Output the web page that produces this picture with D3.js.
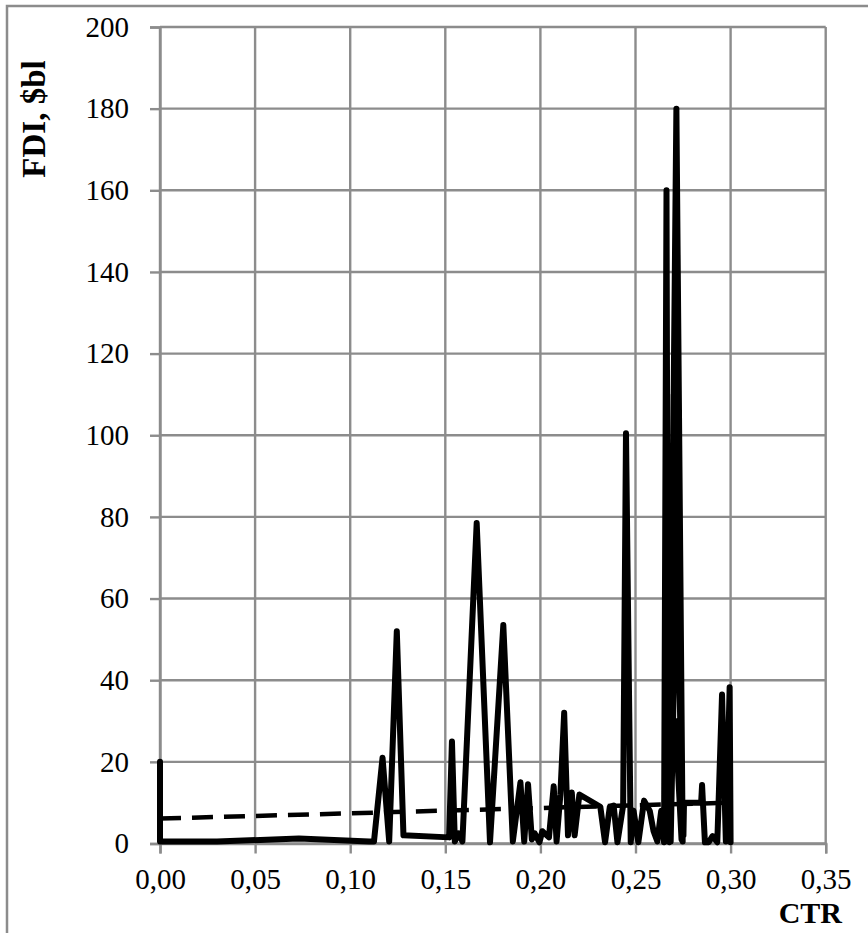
<!DOCTYPE html>
<html>
<head>
<meta charset="utf-8">
<script src="https://cdn.jsdelivr.net/npm/d3@7/dist/d3.min.js"></script>
<style>
  html, body { margin: 0; padding: 0; background: #fff; }
  svg { display: block; }
  text { font-family: "Liberation Serif", "Times New Roman", serif; fill: #000; }
</style>
</head>
<body>
<svg id="chart" width="868" height="933"></svg>
<script>
// ---- data ----
const xTicks = [0, 0.05, 0.10, 0.15, 0.20, 0.25, 0.30, 0.35];
const yTicks = [0, 20, 40, 60, 80, 100, 120, 140, 160, 180, 200];
const xTickLabels = ["0,00", "0,05", "0,10", "0,15", "0,20", "0,25", "0,30", "0,35"];
const yTickLabels = ["0", "20", "40", "60", "80", "100", "120", "140", "160", "180", "200"];

// FDI series (drawing order)
const ctr = [0.000, 0.000, 0.030, 0.073, 0.110, 0.1125, 0.117, 0.1205, 0.1245, 0.128,
  0.152, 0.1535, 0.155, 0.157, 0.159, 0.1665, 0.1735, 0.1805, 0.1855, 0.1895,
  0.1915, 0.1935, 0.1955, 0.197, 0.1995, 0.201, 0.2045, 0.207, 0.2085, 0.2105,
  0.2125, 0.2145, 0.2165, 0.218, 0.2205, 0.2315, 0.234, 0.2365, 0.2385, 0.2405,
  0.2435, 0.245, 0.2475, 0.249, 0.2515, 0.2545, 0.2575, 0.2595, 0.2615, 0.2635,
  0.2650, 0.2663, 0.2672, 0.2660, 0.2678, 0.2715, 0.2748, 0.2700, 0.2685, 0.2725,
  0.2742, 0.2710, 0.2752, 0.2755, 0.2845, 0.285, 0.2865, 0.2885,
  0.2905, 0.293, 0.2955, 0.2975, 0.2995, 0.300];
const fdi = [20, 0.5, 0.5, 1.2, 0.5, 0.5, 21, 0.5, 52, 2,
  1.5, 25, 0.5, 2.5, 0.5, 78.5, 0.3, 53.5, 0.5, 15,
  0.5, 14.5, 1, 2.5, 0.3, 3, 1.5, 14, 0.5, 12,
  32, 2, 12.5, 2, 12, 9, 0.3, 9, 9.3, 0.3,
  9.3, 100.5, 0.3, 8, 0.3, 10.5, 8, 3, 0.5, 8,
  0.3, 160, 0.5, 40, 0.3, 180, 0.5, 110, 0.5, 95,
  1, 30, 2, 10, 10, 14.3, 0.3, 0.3,
  1.8, 0.3, 36.5, 0.5, 38.3, 0.3];

// linear trend (dashed)
const trendCtr = [0.0, 0.30];
const trendFdi = [6.1, 10.0];

// ---- drawing ----
const svg = d3.select("#chart");
const x = d3.scaleLinear().domain([0, 0.35]).range([160, 825.7]);
const y = d3.scaleLinear().domain([0, 200]).range([843.5, 27]);
const grid = "#8c8c8c";

// outer frame
svg.append("rect").attr("x", 7).attr("y", 6).attr("width", 880).attr("height", 960)
  .attr("fill", "none").attr("stroke", grid).attr("stroke-width", 2.5);

// gridlines
svg.append("g").selectAll("line").data(yTicks).join("line")
  .attr("x1", x(0)).attr("x2", x(0.35))
  .attr("y1", d => y(d)).attr("y2", d => y(d))
  .attr("stroke", grid).attr("stroke-width", 2.4);
svg.append("g").selectAll("line").data(xTicks).join("line")
  .attr("y1", y(0)).attr("y2", y(200))
  .attr("x1", d => x(d)).attr("x2", d => x(d))
  .attr("stroke", grid).attr("stroke-width", 2.4);

// axes
const yAxis = d3.axisLeft(y).tickValues(yTicks).tickSize(10).tickPadding(21)
  .tickFormat((d, i) => yTickLabels[i]);
const gy = svg.append("g").attr("transform", `translate(${x(0)},0)`).call(yAxis);
const xAxis = d3.axisBottom(x).tickValues(xTicks).tickSize(10).tickPadding(15)
  .tickFormat((d, i) => xTickLabels[i]);
const gx = svg.append("g").attr("transform", `translate(0,${y(0)})`).call(xAxis);
[gx, gy].forEach(g => {
  g.select(".domain").attr("stroke", grid).attr("stroke-width", 2.4);
  g.selectAll(".tick line").attr("stroke", grid).attr("stroke-width", 2.4);
  g.selectAll(".tick text").attr("font-family", "Liberation Serif")
    .attr("font-size", 29).attr("fill", "#000");
});

// trend line (dashed)
const trend = trendCtr.map((c, i) => [c, trendFdi[i]]);
svg.append("path").datum(trend)
  .attr("d", d3.line().x(d => x(d[0])).y(d => y(d[1])))
  .attr("fill", "none").attr("stroke", "#000").attr("stroke-width", 4.5)
  .attr("stroke-dasharray", "21,11");

// FDI series
const series = ctr.map((c, i) => [c, fdi[i]]);
svg.append("path").datum(series)
  .attr("d", d3.line().x(d => x(d[0])).y(d => y(d[1])))
  .attr("fill", "none").attr("stroke", "#000").attr("stroke-width", 6)
  .attr("stroke-linejoin", "round").attr("stroke-linecap", "round");

// axis titles
svg.append("text").attr("x", 842).attr("y", 923).attr("text-anchor", "end")
  .attr("font-size", 30).attr("font-weight", "bold").text("CTR");
svg.append("text").attr("transform", "translate(45,119) rotate(-90)")
  .attr("text-anchor", "middle").attr("font-size", 33).attr("font-weight", "bold")
  .text("FDI, $bl");
</script>
</body>
</html>
